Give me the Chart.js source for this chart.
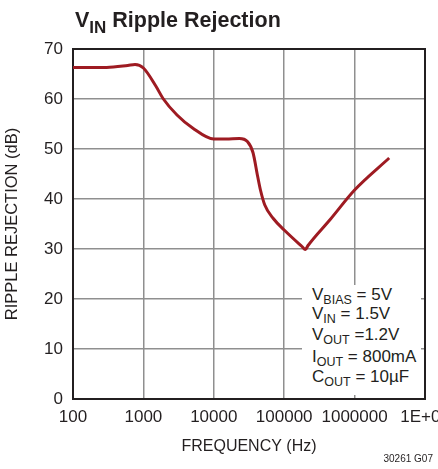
<!DOCTYPE html>
<html>
<head>
<meta charset="utf-8">
<script src="https://cdn.jsdelivr.net/npm/chart.js@4.4.1/dist/chart.umd.min.js"></script>
<style>
  html, body { margin: 0; padding: 0; background: #fff; overflow: hidden; width: 438px; height: 469px; }
  #wrap { position: relative; width: 438px; height: 469px; overflow: hidden; }
  canvas { position: absolute; left: 0; top: 0; }
  .txt { position: absolute; white-space: nowrap; color: #231f20; font-family: 'Liberation Sans', Arial, sans-serif; }
  #title { left: 75px; top: 10px; font-size: 21.5px; line-height: 21.5px; font-weight: bold; }
  #title .sb { position: relative; top: 6px; font-size: 17px; }
  #note { left: 302px; top: 285px; width: 119px; height: 110px; background: #fff; }
  .ln { position: absolute; left: 10px; font-size: 17px; line-height: 17px; }
  .ln .sb { position: relative; top: 4px; font-size: 12.5px; }
  #code { right: 5px; top: 453px; font-size: 10px; line-height: 12px; }
</style>
</head>
<body>
<div id="wrap">
  <canvas id="c" width="470" height="469"></canvas>
  <div class="txt" id="title">V<span class="sb">IN</span> Ripple Rejection</div>
  <div class="txt" id="note">
    <div class="ln" style="top:1px">V<span class="sb">BIAS</span> = 5V</div>
    <div class="ln" style="top:20px">V<span class="sb">IN</span> = 1.5V</div>
    <div class="ln" style="top:41px">V<span class="sb">OUT</span> =1.2V</div>
    <div class="ln" style="top:63px">I<span class="sb">OUT</span> = 800mA</div>
    <div class="ln" style="top:83px">C<span class="sb">OUT</span> = 10µF</div>
  </div>
  <div class="txt" id="code">30261 G07</div>
</div>
<script>
// ---- data ----
const frequencyHz = [100, 300, 600, 760, 1000, 1500, 1900, 3000, 5000, 10000, 15000, 23000, 30000, 36000, 42000, 46000, 53000, 70000, 100000, 179000, 200000, 218000, 450000, 1000000, 3100000];
const rippleRejectionDb = [66.3, 66.3, 66.7, 66.9, 66.2, 62.6, 60.1, 56.8, 54.2, 52.0, 52.0, 52.1, 51.5, 49.3, 44.5, 41.8, 38.8, 36.1, 33.8, 30.5, 29.9, 30.7, 35.9, 41.8, 48.2];
const xTickValues = [100, 1000, 10000, 100000, 1000000, 10000000];
const xTickLabels = ['100', '1000', '10000', '100000', '1000000', '1E+07'];
const yTickValues = [0, 10, 20, 30, 40, 50, 60, 70];

const points = frequencyHz.map((f, i) => ({ x: f, y: rippleRejectionDb[i] }));

const REG = "'Liberation Sans', Arial, sans-serif";
const INK = '#231f20';

const frame = {
  id: 'frame',
  beforeDatasetsDraw(chart) {
    const { ctx, chartArea: a } = chart;
    ctx.save();
    ctx.strokeStyle = '#231f20';
    ctx.lineWidth = 2;
    ctx.strokeRect(a.left, a.top, a.right - a.left, a.bottom - a.top);
    ctx.restore();
  }
};

new Chart(document.getElementById('c'), {
  type: 'line',
  data: {
    datasets: [{
      data: points,
      borderColor: '#9e1b22',
      borderWidth: 3,
      pointRadius: 0,
      fill: false,
      cubicInterpolationMode: 'monotone'
    }]
  },
  options: {
    responsive: false,
    animation: false,
    devicePixelRatio: 1,
    layout: { padding: { left: 0, top: 49, right: 45, bottom: 0 } },
    plugins: { legend: { display: false }, tooltip: { enabled: false } },
    scales: {
      x: {
        type: 'logarithmic',
        min: 100,
        max: 10000000,
        afterBuildTicks(scale) { scale.ticks = xTickValues.map(v => ({ value: v })); },
        afterFit(scale) { scale.height = 70; },
        ticks: {
          autoSkip: false,
          maxRotation: 0,
          padding: 8,
          color: INK,
          font: { family: REG, size: 17 },
          callback(value) { const i = xTickValues.indexOf(value); return i >= 0 ? xTickLabels[i] : ''; }
        },
        grid: { color: '#8f8f8f', lineWidth: 1.5, drawTicks: false },
        border: { display: true, color: '#231f20', width: 2 },
        title: {
          display: true,
          text: 'FREQUENCY (Hz)',
          color: INK,
          font: { family: REG, size: 16 },
          padding: { top: 0, bottom: 13 }
        }
      },
      y: {
        min: 0,
        max: 70,
        afterBuildTicks(scale) { scale.ticks = yTickValues.map(v => ({ value: v })); },
        afterFit(scale) { scale.width = 73; },
        ticks: {
          padding: 10,
          color: INK,
          font: { family: REG, size: 17 }
        },
        grid: { color: '#8f8f8f', lineWidth: 1.5, drawTicks: false },
        border: { display: true, color: '#231f20', width: 2 },
        title: {
          display: true,
          text: 'RIPPLE REJECTION (dB)',
          color: INK,
          font: { family: REG, size: 16.5 },
          padding: { top: 3, bottom: 0 }
        }
      }
    }
  },
  plugins: [frame]
});
</script>
</body>
</html>
